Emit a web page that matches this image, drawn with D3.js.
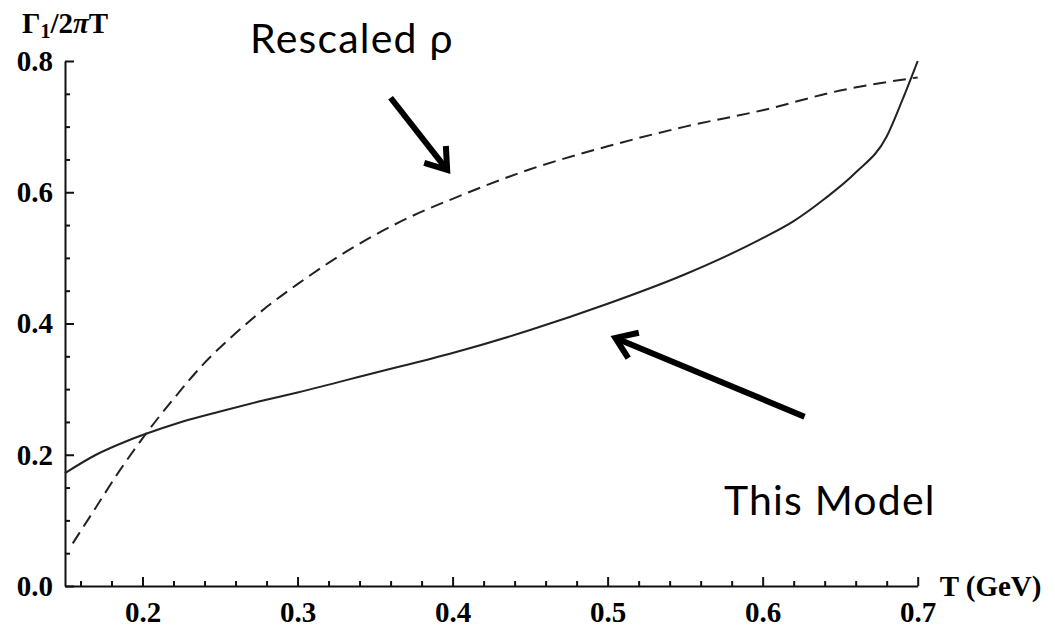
<!DOCTYPE html>
<html>
<head>
<meta charset="utf-8">
<script src="https://cdn.jsdelivr.net/npm/d3@7"></script>
<style>
  body { margin: 0; background: #fff; }
  svg { display: block; }
</style>
</head>
<body>
<svg id="chart" width="1055" height="628"></svg>
<script>
// Damping rate Γ1/2πT of this model versus temperature
const modelT = [0.15, 0.17, 0.19, 0.20, 0.225, 0.25, 0.275, 0.30, 0.35, 0.40, 0.45, 0.50, 0.55, 0.60, 0.62, 0.64, 0.66, 0.68, 0.69, 0.70];
const modelG = [0.172, 0.200, 0.221, 0.230, 0.250, 0.266, 0.281, 0.295, 0.325, 0.355, 0.390, 0.430, 0.475, 0.530, 0.556, 0.590, 0.630, 0.685, 0.740, 0.800];

// Rescaled ρ curve
const rhoT = [0.155, 0.17, 0.185, 0.20, 0.22, 0.24, 0.26, 0.28, 0.30, 0.325, 0.35, 0.375, 0.40, 0.45, 0.50, 0.55, 0.60, 0.65, 0.70];
const rhoG = [0.065, 0.120, 0.175, 0.225, 0.285, 0.340, 0.385, 0.425, 0.460, 0.500, 0.535, 0.565, 0.590, 0.635, 0.670, 0.700, 0.725, 0.755, 0.775];

// Axis ticks
const xMajor = [0.2, 0.3, 0.4, 0.5, 0.6, 0.7];
const xMajorLabels = ["0.2", "0.3", "0.4", "0.5", "0.6", "0.7"];
const xMinor = [0.16, 0.18, 0.22, 0.24, 0.26, 0.28, 0.32, 0.34, 0.36, 0.38, 0.42, 0.44, 0.46, 0.48, 0.52, 0.54, 0.56, 0.58, 0.62, 0.64, 0.66, 0.68];
const yMajor = [0.0, 0.2, 0.4, 0.6, 0.8];
const yMajorLabels = ["0.0", "0.2", "0.4", "0.6", "0.8"];
const yMinor = [0.05, 0.10, 0.15, 0.25, 0.30, 0.35, 0.45, 0.50, 0.55, 0.65, 0.70, 0.75];

// Annotations: [tail T, tail value, head T, head value]
const arrowRho = [0.360, 0.744, 0.3965, 0.634];
const arrowModel = [0.627, 0.258, 0.505, 0.378];
const labelRho = { text: "Rescaled ρ", t: 0.2694, v: 0.812 };
const labelModel = { text: "This Model", t: 0.575, v: 0.108 };

const serif = "'Liberation Serif', 'Times New Roman', serif";
const sans = "Lato, 'Open Sans', sans-serif";

const svg = d3.select("#chart");

const x = d3.scaleLinear().domain([0.15, 0.7]).range([65, 917.7]);
const y = d3.scaleLinear().domain([0, 0.8]).range([586, 61]);

function styleLabels(g) {
  g.selectAll("text")
    .style("font-family", serif)
    .style("font-size", "29px")
    .style("font-weight", "bold")
    .attr("fill", "#000");
}

// x axis: ticks point into the plot
const gx = svg.append("g").attr("transform", `translate(0,${y(0)})`);
gx.call(d3.axisBottom(x).tickValues(xMajor).tickFormat((d, i) => xMajorLabels[i])
  .tickSizeInner(-9).tickSizeOuter(0).tickPadding(15));
gx.append("g").call(d3.axisBottom(x).tickValues(xMinor).tickFormat("")
  .tickSizeInner(-5).tickSizeOuter(0))
  .select(".domain").remove();
styleLabels(gx);

// y axis
const gy = svg.append("g").attr("transform", `translate(${x(0.15)},0)`);
gy.call(d3.axisLeft(y).tickValues(yMajor).tickFormat((d, i) => yMajorLabels[i])
  .tickSizeInner(-9).tickSizeOuter(0).tickPadding(12));
gy.append("g").call(d3.axisLeft(y).tickValues(yMinor).tickFormat("")
  .tickSizeInner(-5).tickSizeOuter(0))
  .select(".domain").remove();
styleLabels(gy);

svg.selectAll(".domain, .tick line").attr("stroke", "#111").attr("stroke-width", 2);

// axis titles
svg.append("text")
  .attr("x", x(0.7) + 22).attr("y", y(0) + 10)
  .style("font-family", serif).style("font-size", "29px").style("font-weight", "bold")
  .attr("fill", "#000")
  .text("T (GeV)");

const yt = svg.append("text")
  .attr("x", 22).attr("y", 33)
  .style("font-family", serif).style("font-size", "29px").style("font-weight", "bold")
  .attr("fill", "#000");
yt.append("tspan").text("Γ");
yt.append("tspan").style("font-size", "20px").attr("dy", 5).text("1");
yt.append("tspan").attr("dy", -5).text("/2");
yt.append("tspan").style("font-style", "italic").text("π");
yt.append("tspan").text("T");

// curves
const line = d3.line().x(d => x(d[0])).y(d => y(d[1])).curve(d3.curveMonotoneX);

svg.append("path")
  .datum(rhoT.map((t, i) => [t, rhoG[i]]))
  .attr("d", line)
  .attr("fill", "none").attr("stroke", "#222").attr("stroke-width", 2)
  .attr("stroke-dasharray", "13,7");

svg.append("path")
  .datum(modelT.map((t, i) => [t, modelG[i]]))
  .attr("d", line)
  .attr("fill", "none").attr("stroke", "#222").attr("stroke-width", 2);

// arrows
function drawArrow(a) {
  const x0 = x(a[0]), y0 = y(a[1]), x1 = x(a[2]), y1 = y(a[3]);
  const ang = Math.atan2(y0 - y1, x0 - x1);
  const len = 24, spread = 35 * Math.PI / 180;
  const g = svg.append("g").attr("stroke", "#000").attr("stroke-width", 6).attr("fill", "none");
  g.append("line").attr("x1", x0).attr("y1", y0).attr("x2", x1).attr("y2", y1);
  g.append("polyline")
    .attr("points", [
      [x1 + len * Math.cos(ang + spread), y1 + len * Math.sin(ang + spread)],
      [x1, y1],
      [x1 + len * Math.cos(ang - spread), y1 + len * Math.sin(ang - spread)]
    ].map(p => p.join(",")).join(" "))
    .attr("stroke-linejoin", "miter");
}
drawArrow(arrowRho);
drawArrow(arrowModel);

// annotation labels
[labelRho, labelModel].forEach(l => {
  svg.append("text")
    .attr("x", x(l.t)).attr("y", y(l.v))
    .style("font-family", sans).style("font-size", "41px")
    .style("letter-spacing", "1.2px")
    .attr("fill", "#000")
    .text(l.text);
});
</script>
</body>
</html>
